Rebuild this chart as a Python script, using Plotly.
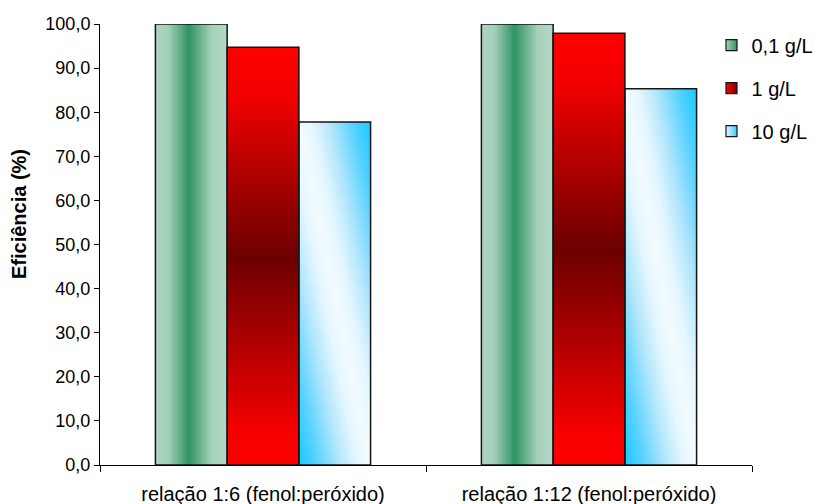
import numpy as np
import plotly.graph_objects as go

# --- data ---
categories = ["relação 1:6 (fenol:peróxido)", "relação 1:12 (fenol:peróxido)"]
series_names = ["0,1 g/L", "1 g/L", "10 g/L"]
eff_01 = [100.0, 100.0]
eff_1 = [94.7, 97.9]
eff_10 = [77.8, 85.3]
y_ticks = [0, 10, 20, 30, 40, 50, 60, 70, 80, 90, 100]

series_values = [eff_01, eff_1, eff_10]

# --- styling ---
FONT = "Liberation Sans, Arial, sans-serif"
BAR_W = 0.22
OUTLINE = "#151515"

# green: light edges, dark centre (across the bar)
green_scale = [[0, "#b0d6c3"], [0.18, "#a3cfb9"], [0.46, "#2e9462"],
               [0.78, "#a6d1bb"], [1, "#b4d9c7"]]
# red: bright at top and bottom, dark in the middle (along the bar)
red_scale = [[0, "#ff0000"], [0.08, "#f50000"], [0.5, "#6c0000"],
             [0.88, "#f00000"], [1, "#ff0000"]]
# light blue: white diagonal band, cyan towards the opposite corners
blue_scale = [[0, "#f2fbff"], [0.18, "#e6f7ff"], [0.45, "#aee5fc"],
              [0.75, "#55d2ff"], [1, "#19c8ff"]]

legend_fill = [("#a6d1bb", "#2e9462"), ("#ff0000", "#7a0000"), ("#e8f7ff", "#33ccff")]

cat_pos = list(range(len(categories)))
n_series = len(series_values)
offsets = [(-n_series / 2 + i) * BAR_W for i in range(n_series)]

fig = go.Figure()

# gradient fills as heatmaps laid over each bar's footprint
NX, NY = 48, 160
for i, vals in enumerate(series_values):
    for c, v in zip(cat_pos, vals):
        x0 = c + offsets[i]
        xe = np.linspace(x0, x0 + BAR_W, NX + 1)
        ye = np.linspace(0, v, NY + 1)
        s = (np.arange(NX) + 0.5) / NX          # fraction across the bar
        h = (np.arange(NY) + 0.5) / NY          # fraction up the bar
        S, H = np.meshgrid(s, h)
        if i == 0:
            z, scale = S, green_scale
        elif i == 1:
            z, scale = H, red_scale
        else:
            z, scale = np.abs(S - (1 - H)), blue_scale
        fig.add_trace(go.Heatmap(
            x=xe, y=ye, z=z, zmin=0, zmax=1, colorscale=scale,
            zsmooth="best", showscale=False, hoverinfo="skip"))

# bar outlines
for i, (name, vals) in enumerate(zip(series_names, series_values)):
    fig.add_trace(go.Bar(
        x=cat_pos, y=vals, name=name, width=BAR_W, offset=offsets[i],
        marker=dict(color="rgba(0,0,0,0)", line=dict(color=OUTLINE, width=1.5)),
        showlegend=False, hoverinfo="skip",
    ))

# legend swatches
for name, (c1, c2) in zip(series_names, legend_fill):
    fig.add_trace(go.Scatter(
        x=[None], y=[None], mode="markers", name=name, legendgroup=name,
        marker=dict(symbol="square", size=11, color=c1,
                    gradient=dict(type="horizontal", color=c2),
                    line=dict(color=OUTLINE, width=1.2)),
    ))

fig.add_annotation(
    text="<b>Eficiência (%)</b>", textangle=-90,
    xref="paper", yref="paper", x=-0.125, y=0.568,
    xanchor="center", yanchor="middle", showarrow=False,
    font=dict(size=20, family=FONT, color="black"),
)

fig.update_layout(
    width=815, height=504,
    margin=dict(l=100, r=63, t=24, b=39, autoexpand=False),
    paper_bgcolor="white", plot_bgcolor="white",
    separators=",.",
    font=dict(family=FONT, size=18, color="black"),
    showlegend=True,
    legend=dict(xref="container", yref="container", x=0.873, y=0.949,
                xanchor="left", yanchor="top",
                font=dict(size=20), tracegroupgap=14,
                bgcolor="rgba(0,0,0,0)"),
    xaxis=dict(
        range=[-0.5, len(categories) - 0.5], tickvals=cat_pos, ticktext=categories,
        ticks="", showgrid=False, zeroline=False, showline=True, automargin=False,
        linecolor="black", linewidth=1, ticklabelstandoff=11,
        minor=dict(tickvals=[c - 0.5 for c in cat_pos] + [cat_pos[-1] + 0.5],
                   ticks="outside", ticklen=6, tickcolor="black", tickwidth=1),
        tickfont=dict(size=20),
    ),
    yaxis=dict(
        range=[0, 100], tickvals=y_ticks, tickformat=".1f", automargin=False,
        ticks="outside", ticklen=5, tickcolor="black",
        showgrid=False, zeroline=False, showline=True, linecolor="black", linewidth=1,
        tickfont=dict(size=18),
    ),
)

fig.write_html("out.html")
